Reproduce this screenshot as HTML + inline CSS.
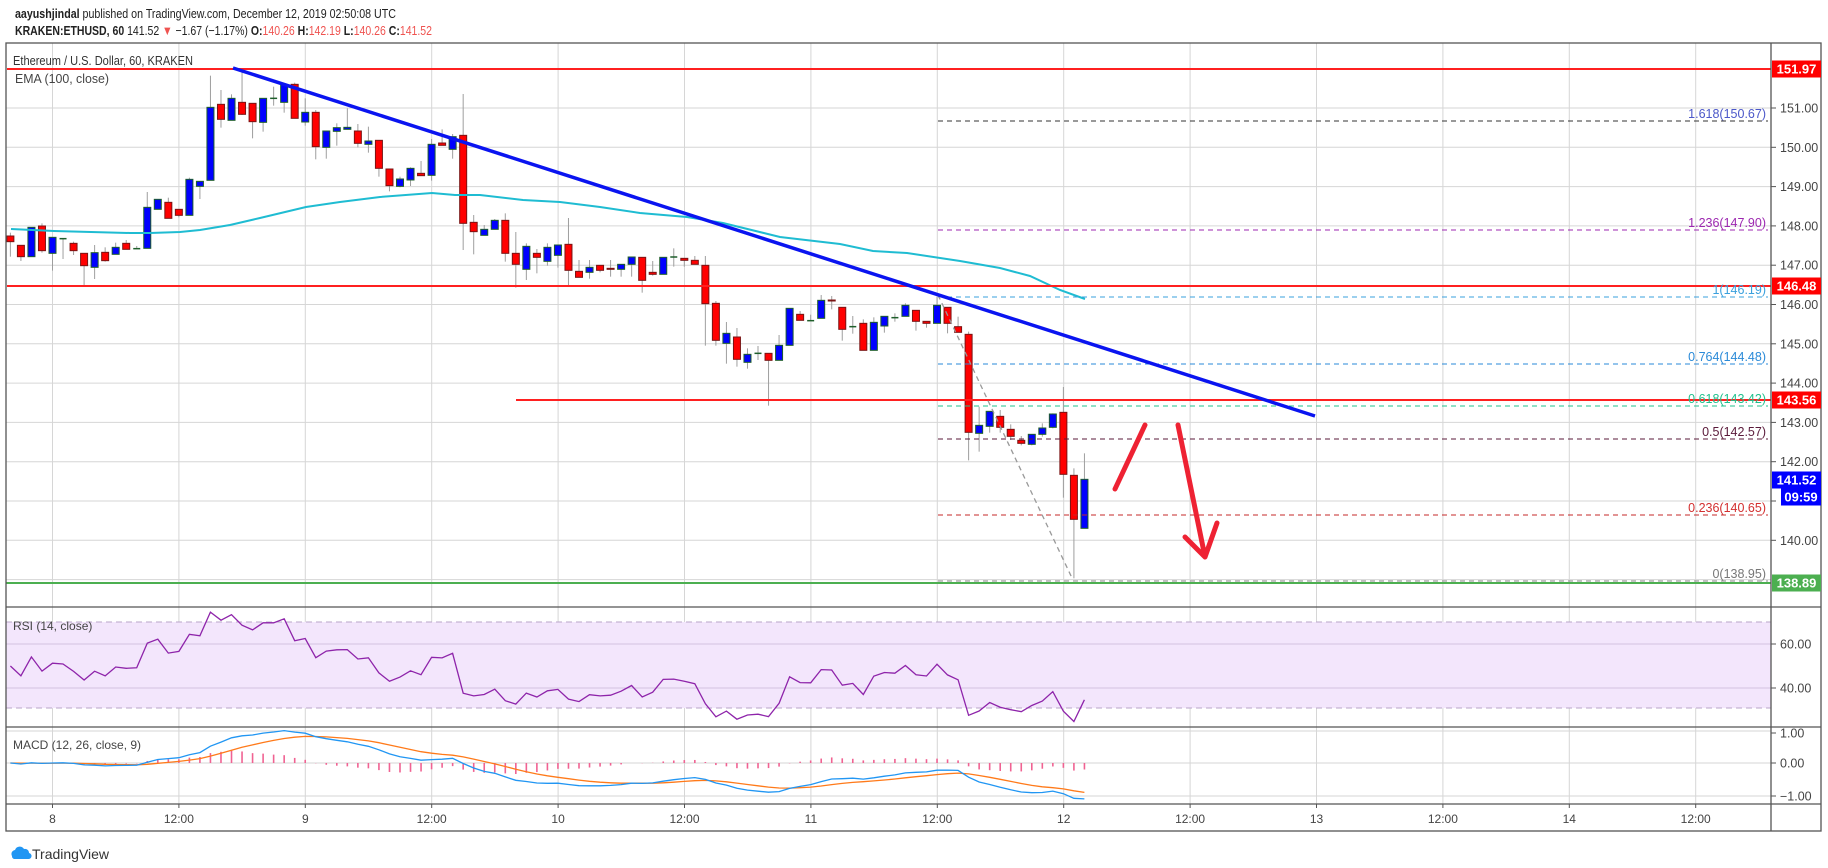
<!DOCTYPE html>
<html><head><meta charset="utf-8"><style>
html,body{margin:0;padding:0;background:#fff;}
svg{display:block;font-family:"Liberation Sans",sans-serif;}
</style></head><body>
<svg id="s" width="1828" height="868" viewBox="0 0 1828 868" xmlns="http://www.w3.org/2000/svg">
<rect width="1828" height="868" fill="#fff"/>
<g id="grid"></g>
<rect x="6" y="622" width="1765" height="86" fill="#f3e6fc"/>
<line x1="6" y1="622" x2="1771" y2="622" stroke="#b9a5c9" stroke-dasharray="6,4"/>
<line x1="6" y1="708" x2="1771" y2="708" stroke="#b9a5c9" stroke-dasharray="6,4"/>
<g id="g2"></g>
<g id="main"></g>
<text x="15" y="18" font-size="13" fill="#222" textLength="381" lengthAdjust="spacingAndGlyphs"><tspan font-weight="bold">aayushjindal</tspan> published on TradingView.com, December 12, 2019 02:50:08 UTC</text>
<text x="15" y="35" font-size="13" fill="#222" textLength="417" lengthAdjust="spacingAndGlyphs"><tspan font-weight="bold">KRAKEN:ETHUSD, 60</tspan> 141.52 <tspan fill="#ef5350">▼</tspan> −1.67 (−1.17%) <tspan font-weight="bold">O:</tspan><tspan fill="#ef5350">140.26</tspan> <tspan font-weight="bold">H:</tspan><tspan fill="#ef5350">142.19</tspan> <tspan font-weight="bold">L:</tspan><tspan fill="#ef5350">140.26</tspan> <tspan font-weight="bold">C:</tspan><tspan fill="#ef5350">141.52</tspan></text>
<text x="13" y="65" font-size="13" fill="#333" textLength="180" lengthAdjust="spacingAndGlyphs">Ethereum / U.S. Dollar, 60, KRAKEN</text>
<text x="15" y="83" font-size="13" fill="#444" textLength="94" lengthAdjust="spacingAndGlyphs">EMA (100, close)</text>
<text x="13" y="630" font-size="12" fill="#444">RSI (14, close)</text>
<text x="13" y="749" font-size="12" fill="#444">MACD (12, 26, close, 9)</text>
<rect x="6" y="43" width="1815" height="788" fill="none" stroke="#555" stroke-width="1.3"/>
<line x1="1771" y1="43" x2="1771" y2="831" stroke="#555" stroke-width="1.3"/>
<line x1="6" y1="607" x2="1821" y2="607" stroke="#555" stroke-width="1.3"/>
<line x1="6" y1="727" x2="1821" y2="727" stroke="#555" stroke-width="1.3"/>
<line x1="6" y1="804" x2="1821" y2="804" stroke="#555" stroke-width="1.3"/>
<g id="axis"></g>
<g transform="translate(10,845)">
<path d="M2 11 a4 4 0 0 1 3-6 a5 5 0 0 1 9-1 a4 4 0 0 1 5 4 a3 3 0 0 1 -1 6 h-14 a3 3 0 0 1 -2 -3z" fill="#2196f3"/>
<text x="22" y="14" font-size="14" fill="#333">TradingView</text>
</g>
</svg>
<script>
const NS="http://www.w3.org/2000/svg";
function el(p,t,a,txt){const e=document.createElementNS(NS,t);for(const k in a)e.setAttribute(k,a[k]);if(txt!==undefined)e.textContent=txt;document.getElementById(p).appendChild(e);return e;}
const Y=p=>108+(151-p)*39.3;
const X=i=>52.5+(i-5)*10.53;
for(let k=0;k<14;k++){const x=52.5+k*126.4;el('grid','line',{x1:x,y1:43,x2:x,y2:804,stroke:'#d6d6d6'});}
for(let p=139;p<=151;p++){el('grid','line',{x1:6,y1:Y(p),x2:1771,y2:Y(p),stroke:'#d6d6d6'});}
[644,688].forEach(y=>el('g2','line',{x1:6,y1:y,x2:1771,y2:y,stroke:'#d3c1e0'}));
[731,763,796].forEach(y=>el('g2','line',{x1:6,y1:y,x2:1771,y2:y,stroke:'#d6d6d6'}));
const s6=[['r',528,545,518,590],['r',556,590,556,603],['b',502,590,502,590],['r',498,572,490,578],['b',532,580,532,632],['d',536,536,536,597],['r',550,572,545,585],['r',580,617,580,680],['b',578,622,555,657],['r',577,602,562,605],['b',562,583,548,583],['r',550,568,540,568],['d',566,566,558,566],['b',442,565,396,565],['b',418,448,418,448],['r',427,475,413,475],['r',448,466,448,472],['b',358,466,353,466],['b',364,379,363,417],['b',142,361,47,361],['r',133,178,90,203],['b',115,181,103,181],['r',127,163,37,165],['r',130,185,130,235],['b',115,187,115,215],['d',115,115,80,137],['b',75,127,75,158],['r',73,175,68,175],['b',157,186,115,197],['r',157,260,150,298],['b',213,262,213,296],['b',203,214,190,257],['b',202,208,145,208],['r',213,250,192,262],['b',243,253,200,278],['r',241,325,241,350],['r',327,377,327,394],['b',357,379,350,382],['b',325,360,322,378],['r',340,347,303,347],['b',253,346,237,362],['r',249,256,208,256],['b',230,268,222,296],['r',226,490,102,570],['r',487,515,465,583]];
const s7=[['b',88,106,75,106],['b',61,88,57,88],['r',61,160,40,185],['r',160,193,96,263],['b',139,208,130,240],['r',160,172,147,220],['b',142,184,130,197],['b',135,166,135,203],['r',133,211,54,255],['r',214,232,180,232],['b',202,217,180,236],['r',196,211,196,217],['r',205,208,180,230],['b',193,208,193,230],['b',171,193,171,230],['r',172,241,172,278],['r',217,223,183,227],['b',172,223,172,223],['d',171,171,145,200],['r',175,181,175,200],['r',181,193,168,193],['r',196,311,168,437],['r',310,421,303,437],['b',400,430,366,491],['r',411,478,384,500],['b',463,487,445,506],['d',460,460,438,480],['r',460,481,460,617],['b',436,481,405,481],['b',325,436,325,436],['r',343,361,333,361],['d',362,362,344,362],['b',301,355,285,355],['r',300,303,288,328],['r',322,388,322,422],['d',380,380,348,401],['r',370,451,358,451],['b',367,451,352,451],['b',349,378,349,398],['d',353,353,340,365],['b',316,349,310,349],['r',331,364,331,392],['r',364,370,364,383],['b',316,370,290,370],['r',322,370,322,400],['r',380,397,350,397]];
const s8=[['r',133,427,125,511],['b',406,430,350,485],['b',364,409,364,428],['r',379,412,360,428],['r',418,439,403,450],['r',451,460,438,466],['b',433,463,433,466],['b',414,433,400,440],['b',372,412,370,415],['r',367,553,291,623],['r',556,688,535,865],['b',568,715,490,715]];
const C=[];
[[s6,60],[s7,200],[s8,290]].forEach(([s,oy])=>s.forEach(c=>C.push([c[0],oy+c[1]/3,oy+c[2]/3,oy+c[3]/3,oy+c[4]/3])));
const closes=[];
C.forEach((c,k)=>{const i=k+1,x=X(i);
 el('main','line',{x1:x,y1:c[3],x2:x,y2:c[4],stroke:'#9e9e9e','stroke-width':1});
 if(c[0]=='d'){el('main','line',{x1:x-3.5,y1:c[1],x2:x+3.5,y2:c[1],stroke:'#1e5e2a','stroke-width':1.5});}
 else el('main','rect',{x:x-3.5,y:c[1],width:7,height:Math.max(1,c[2]-c[1]),fill:c[0]=='r'?'#ff0000':'#0000ff',stroke:c[0]=='r'?'#7a1414':'#1e5e2a','stroke-width':1});
 const yc=c[0]=='r'?c[2]:c[1];closes.push(151-(yc-108)/39.3);
});
el('main','polyline',{points:'11,229 54,231 130,233 150,233 180,232 200,230 230,225 260,218 306,207 340,202 380,197 432,193 455,195 480,195 523,200 560,202 600,207 640,213 687,217 723,223 780,237 840,244 873,251 907,253 960,261 1000,268 1030,276 1060,290 1085,299',fill:'none',stroke:'#1fbcd2','stroke-width':2});
[[69,7],[286,7],[400,516]].forEach(([y,x])=>el('main','line',{x1:x,y1:y,x2:1771,y2:y,stroke:'#ff2020','stroke-width':2}));
el('main','line',{x1:6,y1:583,x2:1771,y2:583,stroke:'#4caf50','stroke-width':2});
const fib=[['1.618(150.67)',121,'#333','#4b57c9'],['1.236(147.90)',230,'#9c27b0','#9c27b0'],['1(146.19)',297,'#3aa0dd','#3aa0dd'],['0.764(144.48)',364,'#2a8ad8','#2a8ad8'],['0.618(143.42)',406,'#22c08e','#22c08e'],['0.5(142.57)',439,'#5a1a3a','#5a1a3a'],['0.236(140.65)',515,'#c62828','#d32f2f'],['0(138.95)',581,'#888','#777']];
fib.forEach(f=>{el('main','line',{x1:938,y1:f[1],x2:1768,y2:f[1],stroke:f[2],'stroke-dasharray':'5,4','stroke-width':1});
 el('main','text',{x:1766,y:f[1]-3,'text-anchor':'end','font-size':12.5,fill:f[3]},f[0]);});
el('main','line',{x1:938,y1:295,x2:1072,y2:578,stroke:'#999','stroke-dasharray':'5,4','stroke-width':1.3});
el('main','line',{x1:233,y1:68,x2:1315,y2:416,stroke:'#0a14f0','stroke-width':3.5});
el('main','path',{d:'M1115 489 L1145 425',stroke:'#ee2233','stroke-width':5,fill:'none','stroke-linecap':'round'});
el('main','path',{d:'M1178 425 L1205 557 M1185 537 L1205 557 L1217 523',stroke:'#ee2233','stroke-width':5,fill:'none','stroke-linecap':'round','stroke-linejoin':'round'});
let ag=0.15,al=0.15;const rp=[];
for(let k=0;k<closes.length;k++){if(k>0){const d=closes[k]-closes[k-1];ag=(ag*13+Math.max(d,0))/14;al=(al*13+Math.max(-d,0))/14;}
 const r=100-100/(1+ag/al);rp.push(X(k+1).toFixed(1)+','+(688-(r-40)*2.2).toFixed(1));}
el('g2','polyline',{points:rp.join(' '),fill:'none',stroke:'#8e24aa','stroke-width':1.3});
let e12=closes[0],e26=closes[0],sg=0;const mp=[],sp=[];
closes.forEach((c,k)=>{e12+= (c-e12)*2/13;e26+=(c-e26)*2/27;const m=e12-e26;sg+=(m-sg)*2/10;const x=X(k+1);
 mp.push(x.toFixed(1)+','+(763-m*32.5).toFixed(1));sp.push(x.toFixed(1)+','+(763-sg*32.5).toFixed(1));
 const h=m-sg;el('g2','line',{x1:x,y1:763,x2:x,y2:763-h*32.5,stroke:'#f06292','stroke-width':1.6});});
el('g2','polyline',{points:sp.join(' '),fill:'none',stroke:'#ff7a1a','stroke-width':1.3});
el('g2','polyline',{points:mp.join(' '),fill:'none',stroke:'#2196f3','stroke-width':1.3});
for(let p=140;p<=151;p++){const y=Y(p);el('axis','line',{x1:1771,y1:y,x2:1776,y2:y,stroke:'#555'});el('axis','text',{x:1780,y:y+4.5,'font-size':12.5,fill:'#444'},p.toFixed(2));}
[[644,'60.00'],[688,'40.00'],[733,'1.00'],[763,'0.00'],[796,'−1.00']].forEach(([y,t])=>{el('axis','line',{x1:1771,y1:y,x2:1776,y2:y,stroke:'#555'});el('axis','text',{x:1780,y:y+4.5,'font-size':12.5,fill:'#444'},t);});
function box(y,col,t,x){x=x||1772;el('axis','rect',{x:x,y:y-8.5,width:1821-x,height:17,fill:col});el('axis','text',{x:(x+1821)/2,y:y+4.5,'text-anchor':'middle','font-size':13,'font-weight':'bold',fill:'#fff'},t);}
box(69,'#ff0000','151.97');box(286,'#ff0000','146.48');box(400,'#ff0000','143.56');box(480,'#0000ff','141.52');box(497,'#0000ff','09:59',1781);box(583,'#4caf50','138.89');
const tl=['8','12:00','9','12:00','10','12:00','11','12:00','12','12:00','13','12:00','14','12:00'];
tl.forEach((t,k)=>{const x=52.5+k*126.4;el('axis','line',{x1:x,y1:804,x2:x,y2:808,stroke:'#555'});el('axis','text',{x:x,y:823,'text-anchor':'middle','font-size':12,fill:'#444'},t);});
</script>
</body></html>
